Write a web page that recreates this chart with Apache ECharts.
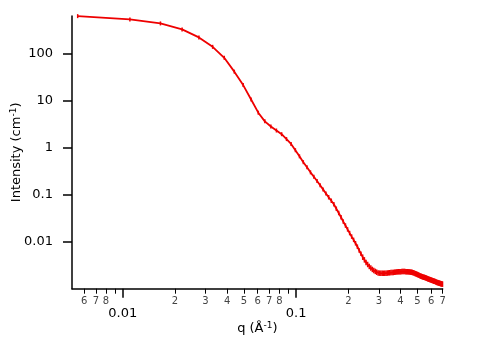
<!DOCTYPE html>
<html>
<head>
<meta charset="utf-8">
<script src="https://cdn.jsdelivr.net/npm/echarts@6/dist/echarts.min.js"></script>
<style>html,body{margin:0;padding:0;background:#fff}#c{width:484px;height:339px}</style>
</head>
<body>
<div id="c"></div>
<script>
const q = [0.0055,0.011,0.0165,0.022,0.0275,0.033,0.0385,0.044,0.0495,0.055,
0.0605,0.066,0.0715,0.077,0.0825,0.088,0.0935,0.099,0.1045,0.11,
0.1155,0.121,0.1265,0.132,0.1375,0.143,0.1485,0.154,0.1595,0.165,
0.1705,0.176,0.1815,0.187,0.1925,0.198,0.2035,0.209,0.2145,0.22,
0.2255,0.231,0.2365,0.242,0.2475,0.253,0.2585,0.264,0.2695,0.275,
0.2805,0.286,0.2915,0.297,0.3025,0.308,0.3135,0.319,0.3245,0.33,
0.3355,0.341,0.3465,0.352,0.3575,0.363,0.3685,0.374,0.3795,0.385,
0.3905,0.396,0.4015,0.407,0.4125,0.418,0.4235,0.429,0.4345,0.44,
0.4455,0.451,0.4565,0.462,0.4675,0.473,0.4785,0.484,0.4895,0.495,
0.5005,0.506,0.5115,0.517,0.5225,0.528,0.5335,0.539,0.5445,0.55,
0.5555,0.561,0.5665,0.572,0.5775,0.583,0.5885,0.594,0.5995,0.605,
0.6105,0.616,0.6215,0.627,0.6325,0.638,0.6435,0.649,0.6545,0.66,
0.6655,0.671,0.6765,0.682,0.6875,0.693,0.6985];
const intensity = [620,527,434,324,219,138,80.7,41,21.2,10.5,
5.5,3.6,2.8,2.3,1.92,1.51,1.19,0.877,0.65,0.488,
0.38,0.297,0.24,0.195,0.158,0.129,0.106,0.0877,0.074,0.0625,
0.050,0.0406,0.033,0.0267,0.022,0.0182,0.0152,0.0128,0.0109,0.00925,
0.0078,0.0065,0.0055,0.00467,0.0041,0.00362,0.00327,0.00297,0.00275,0.00257,
0.00244,0.00233,0.00224,0.00216,0.00214,0.00213,0.00212,0.00213,0.00213,0.00214,
0.00215,0.00217,0.00218,0.00220,0.00221,0.00222,0.00224,0.00225,0.00227,0.00228,
0.00229,0.00230,0.00230,0.00231,0.00231,0.00231,0.00231,0.00230,0.00230,0.00229,
0.00228,0.00227,0.00225,0.00224,0.00222,0.00218,0.00215,0.00211,0.00208,0.00204,
0.00200,0.00196,0.00192,0.00189,0.00185,0.00183,0.00180,0.00178,0.00176,0.00174,
0.00171,0.00168,0.00166,0.00163,0.00161,0.00159,0.00157,0.00155,0.00153,0.00151,
0.00149,0.00147,0.00145,0.00144,0.00142,0.00140,0.00138,0.00136,0.00135,0.00133,
0.00132,0.00131,0.00129,0.00128,0.00127,0.00126,0.00125];

const yTicks = [0.01, 0.1, 1, 10, 100];
const yTickLabels = ['0.01', '0.1', '1', '10', '100'];
const xMinorTicks = [0.006,0.007,0.008,0.009,0.02,0.03,0.04,0.05,0.06,0.07,0.08,0.09,0.2,0.3,0.4,0.5,0.6,0.7];
const xMinorLabels = ['6','7','8','','2','3','4','5','6','7','8','','2','3','4','5','6','7'];
const xMajorTicks = [0.01, 0.1];
const xMajorLabels = ['0.01', '0.1'];
const xRange = [0.0051, 0.7];
const yRange = [0.001, 624];

const L = Math.log10;
function lookup(vals, labels) {
  const lv = vals.map(L);
  return function (v) {
    for (let i = 0; i < lv.length; i++) if (Math.abs(lv[i] - v) < 1e-6) return labels[i];
    return '';
  };
}
const FONT = 'DejaVu Sans';
const data = q.map((x, i) => [L(x), L(intensity[i])]);

const chart = echarts.init(document.getElementById('c'), null, {renderer: 'canvas'});
chart.setOption({
  animation: false,
  backgroundColor: '#fff',
  grid: {left: 72, right: 41.3, top: 16, bottom: 50.3, containLabel: false, outerBoundsMode: 'none'},
  xAxis: [{
    type: 'value', min: L(xRange[0]), max: L(xRange[1]), position: 'bottom',
    axisLine: {show: true, onZero: false, lineStyle: {color: '#000', width: 1.5}},
    axisTick: {show: true, length: 5, lineStyle: {color: '#000', width: 1}, customValues: xMinorTicks.map(L)},
    axisLabel: {show: true, margin: 8, fontSize: 10, color: '#444', fontFamily: FONT,
      customValues: xMinorTicks.map(L), formatter: lookup(xMinorTicks, xMinorLabels)},
    splitLine: {show: false},
    name: 'q (Å{sup|-1})', nameLocation: 'middle', nameGap: 32, nameMoveOverlap: false,
    nameTextStyle: {fontFamily: FONT, fontSize: 13, color: '#000',
      rich: {sup: {fontSize: 9, fontFamily: FONT, color: '#000', verticalAlign: 'top', padding: [0, 0, 6, 0]}}}
  }, {
    type: 'value', min: L(xRange[0]), max: L(xRange[1]), position: 'bottom',
    axisLine: {show: false, onZero: false},
    axisTick: {show: true, length: 9, lineStyle: {color: '#000', width: 1.5}, customValues: xMajorTicks.map(L)},
    axisLabel: {show: true, margin: 18, fontSize: 13, color: '#000', fontFamily: FONT,
      customValues: xMajorTicks.map(L), formatter: lookup(xMajorTicks, xMajorLabels)},
    splitLine: {show: false}
  }],
  yAxis: {
    type: 'value', min: L(yRange[0]), max: L(yRange[1]),
    axisLine: {show: true, onZero: false, lineStyle: {color: '#000', width: 1.5}},
    axisTick: {show: true, length: 9, lineStyle: {color: '#000', width: 1.5}, customValues: yTicks.map(L)},
    axisLabel: {show: true, margin: 19, fontSize: 13, color: '#000', fontFamily: FONT,
      customValues: yTicks.map(L), formatter: lookup(yTicks, yTickLabels)},
    splitLine: {show: false},
    name: 'Intensity (cm{sup|-1})', nameLocation: 'middle', nameGap: 48, nameRotate: 90, nameMoveOverlap: false,
    nameTextStyle: {fontFamily: FONT, fontSize: 13, color: '#000',
      rich: {sup: {fontSize: 9, fontFamily: FONT, color: '#000', verticalAlign: 'top', padding: [0, 0, 6, 0]}}}
  },
  series: [{
    type: 'line', xAxisIndex: 0, data: data,
    lineStyle: {color: '#ee0000', width: 1.8},
    itemStyle: {color: '#ee0000'},
    symbol: 'rect',
    symbolSize: function (v) { return v[1] < -2.3 ? [1.5, 5.5] : (v[1] < -1 ? [1.5, 4.5] : [1.5, 4]); },
    showAllSymbol: true,
    z: 3
  }]
});
</script>
</body>
</html>
